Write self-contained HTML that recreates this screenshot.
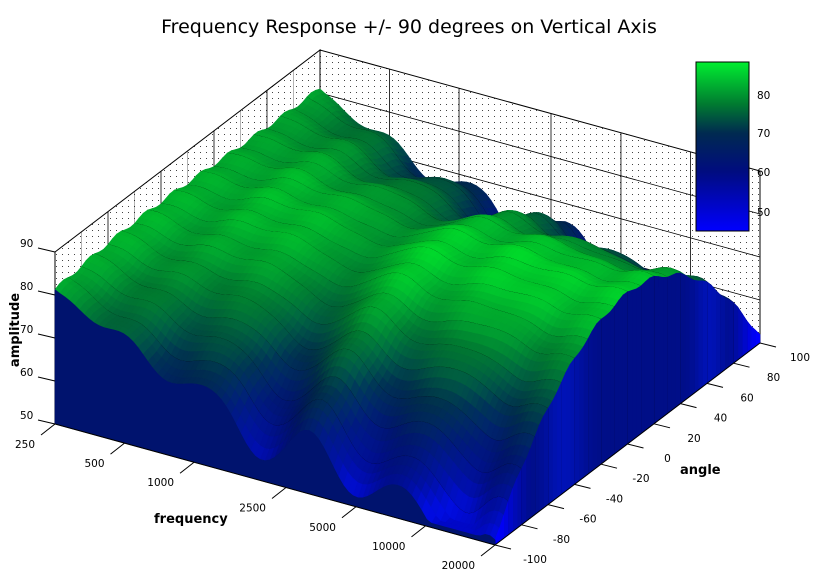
<!DOCTYPE html>
<html><head><meta charset="utf-8"><style>
html,body{margin:0;padding:0;background:#fff;}
svg{display:block;font-family:"DejaVu Sans","Liberation Sans",sans-serif;}
</style></head><body>
<svg id="s" width="814" height="575" viewBox="0 0 814 575" xmlns="http://www.w3.org/2000/svg">
<defs>
<pattern id="dots" width="6" height="6" patternUnits="userSpaceOnUse"><rect x="2" y="2" width="1" height="1" fill="#444"/></pattern>
<linearGradient id="cb" x1="0" y1="0" x2="0" y2="1">
<stop offset="0" stop-color="#00ee30"/>
<stop offset="0.25" stop-color="#007a30"/>
<stop offset="0.42" stop-color="#002a50"/>
<stop offset="0.65" stop-color="#000c80"/>
<stop offset="1" stop-color="#0000ff"/>
</linearGradient>
</defs>
<text x="409" y="33" font-size="19" text-anchor="middle">Frequency Response +/- 90 degrees on Vertical Axis</text>
<g id="walls"></g>
<g id="surf"></g>
<g id="axes" font-size="10.5"></g>
<rect x="696" y="62" width="53" height="169" fill="url(#cb)" stroke="#000" stroke-width="1"/>
<g font-size="10.5"><text x="757" y="99">80</text><text x="757" y="137">70</text><text x="757" y="176">60</text><text x="757" y="216">50</text></g>
<text transform="translate(19,330) rotate(-90)" font-size="13" font-weight="bold" text-anchor="middle">amplitude</text>
<text x="154" y="523" font-size="13" font-weight="bold">frequency</text>
<text x="680" y="474" font-size="13" font-weight="bold">angle</text>
</svg>
<script>
(function(){
function P(f,a,z){return [55+440*f+265*a, 424+121*f-202*a-(z-50)*4.3];}
function Z(f,a){
  var ang=(a-0.5)*200/90;
  var base=82.5+2*f+0.6*Math.sin(f*47)+0.6*Math.sin(f*23+a*6);
  base-=4*Math.exp(-Math.pow((f-0.44)/0.05,2));
  base+=2*Math.exp(-Math.pow((f-0.6)/0.06,2))+1.5*Math.exp(-Math.pow((f-0.75)/0.05,2))+1.5*Math.exp(-Math.pow((f-0.88)/0.04,2));
  var k=30*Math.pow(f,0.8)+1;
  var z=base-k*ang*ang*(1+0.15*Math.sin(f*30));
  z+=0.5*Math.sin(a*60+f*10);
  return Math.max(51,Math.min(89,z));
}
var stops=[[45,0,0,255],[52,0,10,190],[58,0,14,135],[64,0,22,105],[70,0,45,75],[78,0,118,48],[88,0,235,40]];
function col(z,sh){
  var c=stops[stops.length-1];var r,g,b;
  if(z<=stops[0][0]){r=0;g=0;b=255;}else if(z>=c[0]){r=c[1];g=c[2];b=c[3];}
  else{for(var i=0;i<stops.length-1;i++){var s0=stops[i],s1=stops[i+1];if(z>=s0[0]&&z<=s1[0]){var t=(z-s0[0])/(s1[0]-s0[0]);r=s0[1]+t*(s1[1]-s0[1]);g=s0[2]+t*(s1[2]-s0[2]);b=s0[3]+t*(s1[3]-s0[3]);break;}}}
  r=Math.min(255,r*sh);g=Math.min(255,g*sh);b=Math.min(255,b*sh);
  return "rgb("+(r|0)+","+(g|0)+","+(b|0)+")";
}
var NF=90,NA=60;
var zs=[];for(var i=0;i<=NF;i++){zs[i]=[];for(var j=0;j<=NA;j++)zs[i][j]=Z(i/NF,j/NA);}
var out=[];
function ps(pts){return pts.map(function(p){return p[0].toFixed(1)+","+p[1].toFixed(1);}).join(" ");}
function poly(pts,fill){out.push('<polygon points="'+ps(pts)+'" fill="'+fill+'" stroke="'+fill+'" stroke-width="0.6"/>');}
var w=[];
var A=P(0,1,50),B=P(1,1,50),C=P(1,1,90),D=P(0,1,90),E=P(0,0,50),F=P(0,0,90);
w.push('<polygon points="'+[A,B,C,D].map(String).join(" ")+'" fill="url(#dots)" stroke="#000" stroke-width="1"/>');
w.push('<polygon points="'+[E,A,D,F].map(String).join(" ")+'" fill="url(#dots)" stroke="#000" stroke-width="1"/>');
[60,70,80].forEach(function(z){var p=P(0,0,z),q=P(0,1,z),r=P(1,1,z);w.push('<polyline points="'+p+" "+q+" "+r+'" fill="none" stroke="#000" stroke-width="0.8"/>');});
[0.158,0.316,0.525,0.684,0.842].forEach(function(f){var p=P(f,1,50),q=P(f,1,90);w.push('<line x1="'+p[0]+'" y1="'+p[1]+'" x2="'+q[0]+'" y2="'+q[1]+'" stroke="#000" stroke-width="0.8"/>');});
for(var k=1;k<10;k++){var a=k/10,p=P(0,a,50),q=P(0,a,90);w.push('<line x1="'+p[0]+'" y1="'+p[1]+'" x2="'+q[0]+'" y2="'+q[1]+'" stroke="#000" stroke-width="'+(k%2?0.3:0.8)+'"/>');}
document.getElementById("walls").innerHTML=w.join("");
for(var j=NA-1;j>=0;j--){
  for(var i=0;i<NF;i++){
    var z00=zs[i][j],z10=zs[i+1][j],z01=zs[i][j+1],z11=zs[i+1][j+1];
    var zm=(z00+z10+z01+z11)/4;
    var dzf=(z10+z11-z00-z01)/2, dza=(z01+z11-z00-z10)/2;
    var sh=Math.max(0.55,Math.min(1.25,1.0-0.1*dzf+0.05*dza));
    poly([P(i/NF,j/NA,z00),P((i+1)/NF,j/NA,z10),P((i+1)/NF,(j+1)/NA,z11),P(i/NF,(j+1)/NA,z01)],col(zm,sh));
  }
  if(j%3==0 && j>0){
    var pts=[];for(var i=0;i<=NF;i++)pts.push(P(i/NF,j/NA,zs[i][j]));
    out.push('<polyline points="'+ps(pts)+'" fill="none" stroke="#000" stroke-opacity="0.85" stroke-width="0.8"/>');
  }
}
for(var j=NA-1;j>=0;j--){
  var z0=zs[NF][j],z1=zs[NF][j+1];
  var c=col(Math.min(58,(z0+z1)/2-8),1.0+0.35*Math.exp(-Math.pow((j/NA-0.25)/0.08,2))+0.35*Math.exp(-Math.pow((j/NA-0.8)/0.06,2)));
  poly([P(1,j/NA,50),P(1,(j+1)/NA,50),P(1,(j+1)/NA,z1),P(1,j/NA,z0)],c);
  if(j%3==0){var p=P(1,j/NA,50),q=P(1,j/NA,z0);out.push('<line x1="'+p[0]+'" y1="'+p[1]+'" x2="'+q[0]+'" y2="'+q[1]+'" stroke="#000" stroke-opacity="0.8" stroke-width="0.7"/>');}
}
var fp=[P(0,0,50)];for(var i=0;i<=NF;i++)fp.push(P(i/NF,0,zs[i][0]));fp.push(P(1,0,50));
poly(fp,"#00136e");
document.getElementById("surf").innerHTML=out.join("");
var ax=[];
[90,80,70,60,50].forEach(function(z){var p=P(0,0,z);ax.push('<line x1="'+(p[0]-17)+'" y1="'+(p[1]-4)+'" x2="'+p[0]+'" y2="'+p[1]+'" stroke="#000"/>');ax.push('<text x="'+(p[0]-35)+'" y="'+(p[1]-5)+'">'+z+'</text>');});
[[0,"250"],[0.158,"500"],[0.316,"1000"],[0.525,"2500"],[0.684,"5000"],[0.842,"10000"],[1,"20000"]].forEach(function(t){var p=P(t[0],0,50);ax.push('<line x1="'+p[0]+'" y1="'+p[1]+'" x2="'+(p[0]-14)+'" y2="'+(p[1]+11)+'" stroke="#000"/>');ax.push('<text x="'+(p[0]-20)+'" y="'+(p[1]+24)+'" text-anchor="end">'+t[1]+'</text>');});
var fp0=P(0,0,50),fp1=P(1,0,50);ax.push('<line x1="'+fp0[0]+'" y1="'+fp0[1]+'" x2="'+fp1[0]+'" y2="'+fp1[1]+'" stroke="#000"/>');
for(var k=0;k<=10;k++){var a=k/10,p=P(1,a,50);ax.push('<line x1="'+p[0]+'" y1="'+p[1]+'" x2="'+(p[0]+16)+'" y2="'+(p[1]+4)+'" stroke="#000"/>');ax.push('<text x="'+(p[0]+40)+'" y="'+(p[1]+18)+'" text-anchor="middle">'+(-100+20*k)+'</text>');}
var r0=P(1,0,50),r1=P(1,1,50);ax.push('<line x1="'+r0[0]+'" y1="'+r0[1]+'" x2="'+r1[0]+'" y2="'+r1[1]+'" stroke="#000"/>');
document.getElementById("axes").innerHTML=ax.join("");
})();
</script>
</body></html>
